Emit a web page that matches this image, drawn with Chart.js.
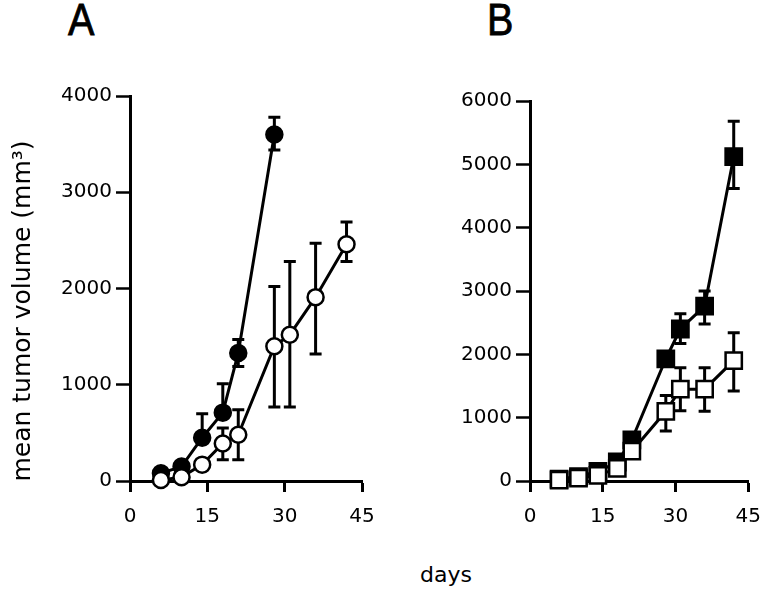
<!DOCTYPE html>
<html>
<head>
<meta charset="utf-8">
<script src="https://cdn.jsdelivr.net/npm/chart.js@4"></script>
<style>
  html, body { margin: 0; padding: 0; background: #fff; }
  #wrap { position: relative; width: 774px; height: 595px; overflow: hidden; }
  .panel { position: absolute; top: 0; }
  .lbl { position: absolute; color: #000; white-space: nowrap; }
  .big { font-family: "Liberation Sans", sans-serif; font-size: 44px; line-height: 44px; transform-origin: left top; transform: scaleX(0.9); -webkit-text-stroke: 0.8px #000; }
</style>
</head>
<body>
<div id="wrap">
  <div class="lbl big" style="left:68px; top:-2px;">A</div>
  <div class="lbl big" style="left:487px; top:-2px;">B</div>
  <div class="panel" style="left:0; width:390px; height:560px;"><canvas id="cA" width="390" height="560"></canvas></div>
  <div class="panel" style="left:390px; width:384px; height:560px;"><canvas id="cB" width="384" height="560"></canvas></div>
  <div class="lbl" id="ytitle" style="left:-178px; top:296px; width:400px; height:30px; line-height:30px; text-align:center; font-family:'DejaVu Sans', sans-serif; font-size:25px; transform:rotate(-90deg);"></div>
  <div class="lbl" id="xtitle" style="left:0; width:892px; text-align:center; top:562px; font-family:'DejaVu Sans', sans-serif; font-size:22px;"></div>
</div>
<script>
// ---- Data ----
const yTitle = "mean tumor volume (mm³)";
const xTitle = "days";
const xTicks = [0, 15, 30, 45];

// Panel A
const daysAFilled = [6, 10, 14, 18, 21, 28];
const aFilled     = [80, 150, 450, 710, 1330, 3600];
const aFilledHi   = [null, null, 700, 1010, 1470, 3780];
const aFilledLo   = [null, null, null, null, 1190, 3440];

const daysAOpen = [6, 10, 14, 18, 21, 28, 31, 36, 42];
const aOpen     = [10, 40, 170, 390, 480, 1400, 1520, 1910, 2460];
const aOpenHi   = [null, null, null, 550, 740, 2020, 2280, 2470, 2690];
const aOpenLo   = [null, null, null, 220, 220, 770, 770, 1320, 2280];

// Panel B
const daysB   = [6, 10, 14, 18, 21, 28, 31, 36, 42];
const bFilled   = [30, 70, 150, 300, 650, 1930, 2400, 2760, 5120];
const bFilledHi = [null, null, null, null, null, null, 2640, 3000, 5680];
const bFilledLo = [null, null, null, null, null, null, 2170, 2480, 4620];
const bOpen     = [15, 45, 90, 200, 470, 1100, 1450, 1450, 1900];
const bOpenHi   = [null, null, null, null, null, 1350, 1790, 1790, 2340];
const bOpenLo   = [null, null, null, null, null, 790, 1110, 1100, 1420];

const yMaxA = 4000, yMaxB = 6000, yStep = 1000;

document.getElementById('ytitle').textContent = yTitle;
document.getElementById('xtitle').textContent = xTitle;

// ---- Helpers ----
function pts(xs, ys) { return xs.map((x, i) => ({ x: x, y: ys[i] })); }

const errorBars = {
  id: 'errorBars',
  beforeDatasetsDraw(chart) {
    const ctx = chart.ctx;
    const xs = chart.scales.x, ys = chart.scales.y;
    ctx.save();
    ctx.strokeStyle = '#000';
    ctx.lineWidth = 3;
    ctx.lineCap = 'butt';
    chart.data.datasets.forEach(ds => {
      ds.data.forEach((p, i) => {
        const px = xs.getPixelForValue(p.x);
        const py = ys.getPixelForValue(p.y);
        const cap = 6;
        [ds.errHi && ds.errHi[i], ds.errLo && ds.errLo[i]].forEach(v => {
          if (v === null || v === undefined) return;
          const ey = ys.getPixelForValue(v);
          ctx.beginPath();
          ctx.moveTo(px, py); ctx.lineTo(px, ey);
          ctx.moveTo(px - cap, ey); ctx.lineTo(px + cap, ey);
          ctx.stroke();
        });
      });
    });
    ctx.restore();
  }
};

function makeChart(id, datasets, yMax, pad, yWidth) {
  return new Chart(document.getElementById(id), {
    type: 'scatter',
    data: { datasets: datasets },
    plugins: [errorBars],
    options: {
      responsive: false,
      animation: false,
      events: [],
      layout: { padding: pad },
      plugins: { legend: { display: false }, tooltip: { enabled: false } },
      scales: {
        x: {
          type: 'linear', min: 0, max: 45,
          afterBuildTicks: s => { s.ticks = xTicks.map(v => ({ value: v })); },
          afterFit: s => { s.height = 79; },
          border: { display: true, color: '#000', width: 3 },
          grid: { drawOnChartArea: false, drawTicks: true, tickLength: 11, tickWidth: 3, tickColor: '#000' },
          ticks: { color: '#000', padding: 13, font: { family: 'DejaVu Sans', size: 20 }, callback: v => String(v) }
        },
        y: {
          type: 'linear', min: 0, max: yMax,
          ticks: { stepSize: yStep, color: '#000', padding: 4, font: { family: 'DejaVu Sans', size: 20 }, callback: v => String(v) },
          afterFit: s => { s.width = yWidth; },
          border: { display: true, color: '#000', width: 3 },
          grid: { drawOnChartArea: false, drawTicks: true, tickLength: 14, tickWidth: 2.5, tickColor: '#000' }
        }
      }
    }
  });
}

function ds(xs, ys, hi, lo, style, filled) {
  return {
    data: pts(xs, ys), errHi: hi, errLo: lo,
    showLine: true, borderColor: '#000', borderWidth: 3,
    pointStyle: style, pointRadius: style === 'rect' ? 11.5 : 8,
    pointBorderWidth: 2.5, pointBorderColor: '#000',
    pointBackgroundColor: filled ? '#000' : '#fff',
    clip: false
  };
}

makeChart('cA', [
  ds(daysAOpen, aOpen, aOpenHi, aOpenLo, 'circle', false),
  ds(daysAFilled, aFilled, aFilledHi, aFilledLo, 'circle', true)
], yMaxA, { left: 0, top: 96, right: 28, bottom: 0 }, 130);

makeChart('cB', [
  ds(daysB, bOpen, bOpenHi, bOpenLo, 'rect', false),
  ds(daysB, bFilled, bFilledHi, bFilledLo, 'rect', true)
], yMaxB, { left: 0, top: 101, right: 12, bottom: 0 }, 140);
</script>
</body>
</html>
